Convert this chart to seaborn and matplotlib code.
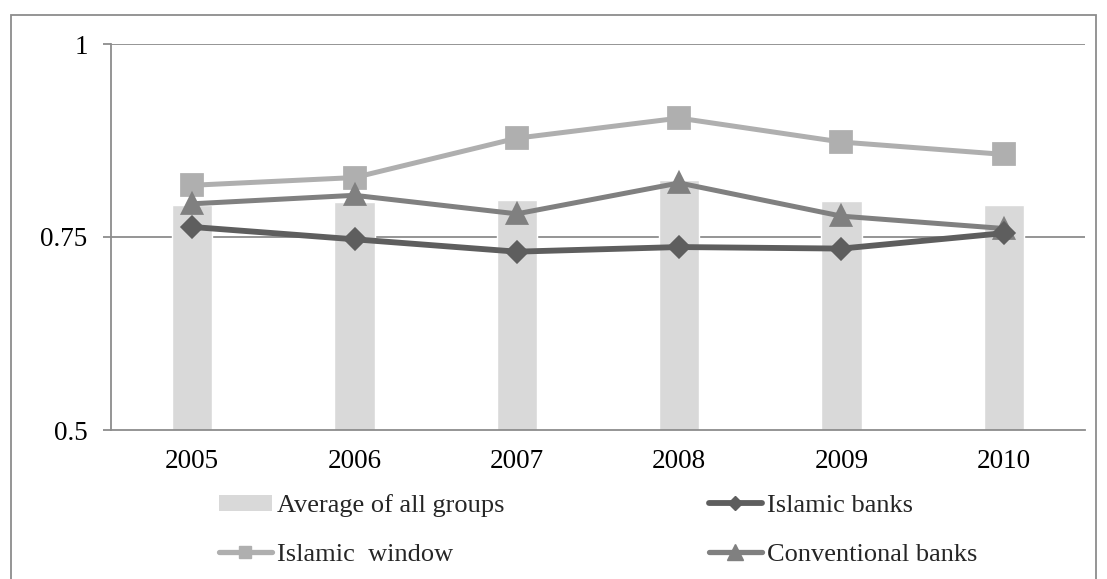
import matplotlib
matplotlib.use("Agg")
import matplotlib.pyplot as plt
import seaborn as sns
import pandas as pd
from matplotlib.patches import Rectangle
from matplotlib.lines import Line2D

years = ["2005", "2006", "2007", "2008", "2009", "2010"]
average_all = [0.791, 0.795, 0.798, 0.824, 0.797, 0.792]
islamic_banks = [0.763, 0.747, 0.731, 0.737, 0.735, 0.755]
islamic_window = [0.817, 0.827, 0.878, 0.904, 0.873, 0.857]
conventional = [0.793, 0.804, 0.780, 0.820, 0.777, 0.761]
yticks = [0.5, 0.75, 1.0]
ytick_labels = ["0.5", "0.75", "1"]

sns.set_theme(style="white")
plt.rcParams["font.family"] = ["Liberation Serif", "DejaVu Serif"]

c_bar = "#D9D9D9"
c_ib = "#5E5E5E"
c_iw = "#AFAFAF"
c_cb = "#808080"
c_axis = "#8C8C8C"

fig = plt.figure(figsize=(11.07, 5.79), dpi=100)
ax = fig.add_axes([111 / 1107, 149 / 579, 974 / 1107, 386 / 579])

df_bar = pd.DataFrame({"year": years, "value": average_all})
sns.barplot(data=df_bar, x="year", y="value", color=c_bar, width=0.25,
            saturation=1, ax=ax, zorder=1)

series = [
    (islamic_window, c_iw, "s", 14, 3.6),
    (conventional, c_cb, "^", 13, 3.6),
    (islamic_banks, c_ib, "D", 9.5, 4.2),
]
for vals, col, mk, ms, lw in series:
    d = pd.DataFrame({"year": years, "value": vals})
    sns.pointplot(data=d, x="year", y="value", color=col, marker=mk,
                  markersize=ms, linewidth=lw, ax=ax, errorbar=None, zorder=3)

ax.set_ylim(0.5, 1.0)
ax.set_xlim(-0.5, 5.5)
ax.set_yticks(yticks)
ax.set_yticklabels(ytick_labels)
ax.set_xlabel("")
ax.set_ylabel("")
for yv in [0.75, 1.0]:
    ax.axhline(yv, color=c_axis, lw=1.3, zorder=0.5)
for s in ["top", "right"]:
    ax.spines[s].set_visible(False)
for s in ["left", "bottom"]:
    ax.spines[s].set_color(c_axis)
    ax.spines[s].set_linewidth(1.3)
ax.tick_params(axis="y", which="major", direction="out", length=5.8, width=1.3,
               color=c_axis, left=True, labelsize=19.5, pad=11, labelcolor="black")
ax.tick_params(axis="x", which="major", length=0, labelsize=19.5, pad=13.5,
               labelcolor="black")

h_avg = Rectangle((0, 0), 1, 1, facecolor=c_bar, edgecolor="none")
h_ib = Line2D([], [], color=c_ib, lw=4.2, marker="D", markersize=7.5, solid_capstyle="round")
h_iw = Line2D([], [], color=c_iw, lw=3.8, marker="s", markersize=9, solid_capstyle="round")
h_cb = Line2D([], [], color=c_cb, lw=3.8, marker="^", markersize=11, solid_capstyle="round")
fig.legend([h_avg, h_iw, h_ib, h_cb],
           ["Average of all groups", "Islamic  window", "Islamic banks", "Conventional banks"],
           ncol=2, loc="upper left", bbox_to_anchor=(219 / 1107, 1 - 494 / 579),
           frameon=False, fontsize=19, handlelength=2.0, handletextpad=0.2,
           columnspacing=7.75, labelspacing=1.0, borderaxespad=0, borderpad=0,
           handleheight=0.55)

fig.patches.append(Rectangle((11 / 1107, -0.1), (1096 - 11) / 1107, 1.1 - 15 / 579,
                             transform=fig.transFigure, fill=False,
                             edgecolor="#8C8C8C", lw=1.3, clip_on=False))

fig.savefig("out.png", dpi=100)
